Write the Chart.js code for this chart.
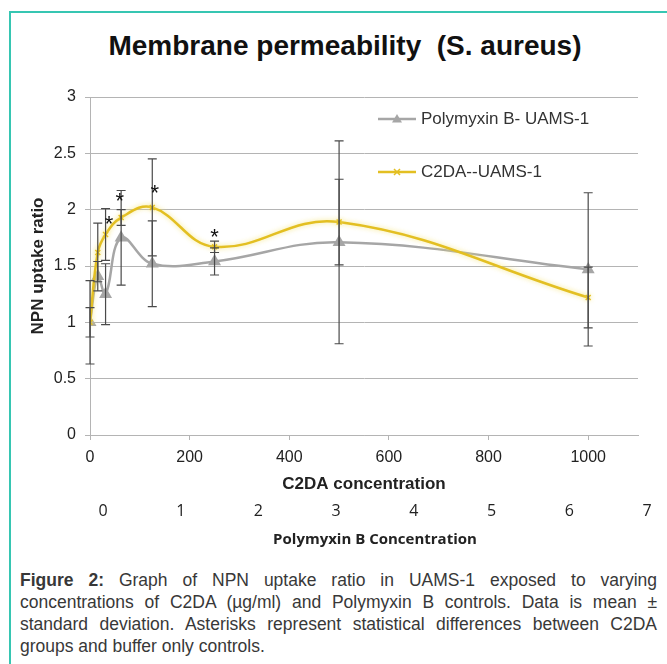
<!DOCTYPE html>
<html>
<head>
<meta charset="utf-8">
<script src="https://cdn.jsdelivr.net/npm/chart.js@4.4.1/dist/chart.umd.min.js"></script>
<style>
    html, body { margin: 0; padding: 0; background: #fff; }
    body { width: 667px; height: 664px; position: relative; overflow: hidden; font-family: "Liberation Sans", Arial, sans-serif; }
    #frame { position: absolute; left: 9px; top: 11px; width: 700px; height: 700px; border-left: 2px solid #36c6b2; border-top: 2px solid #36c6b2; }
    #title { position: absolute; left: 0; top: 29px; width: 690px; text-align: center; font-size: 28px; line-height: 34px; font-weight: bold; color: #111; }
    #wrap { position: absolute; left: 0; top: 0; width: 667px; height: 560px; }
    #caption { position: absolute; left: 20px; top: 569px; width: 637px; font-size: 17.5px; line-height: 22px; color: #383838; }
    #caption div { text-align: justify; text-align-last: justify; white-space: nowrap; }
    #caption div:last-child { text-align-last: left; }
</style>
</head>
<body>
<div id="frame"></div>
<div id="title">Membrane permeability&nbsp; (S. aureus)</div>
<div id="wrap"><canvas id="npnChart" width="667" height="560"></canvas></div>
<div id="caption">
    <div><b>Figure 2:</b> Graph of NPN uptake ratio in UAMS-1 exposed to varying</div>
    <div>concentrations of C2DA (µg/ml) and Polymyxin B controls. Data is mean ±</div>
    <div>standard deviation. Asterisks represent statistical differences between C2DA</div>
    <div>groups and buffer only controls.</div>
</div>
<script>
    // values
    const concentrations = [0, 15.6, 31.25, 62.5, 125, 250, 500, 1000];
    const polymyxinRatio = [1.0, 1.41, 1.25, 1.75, 1.52, 1.54, 1.71, 1.47];
    const polymyxinSd = [0.37, 0.13, 0.27, 0.42, 0.38, 0.12, 0.9, 0.68];
    const c2daRatio = [1.0, 1.62, 1.78, 1.93, 2.02, 1.67, 1.89, 1.22];
    const c2daSd = [0.13, 0.26, 0.23, 0.07, 0.43, 0.05, 0.38, 0.27];

    // asterisks (significant vs buffer only)
    const asteriskX = [38, 60, 130, 250];
    const asteriskY = [1.93, 2.13, 2.2, 1.81];

    const c2daTicks = [0, 200, 400, 600, 800, 1000];
    const polymyxinTicks = [0, 1, 2, 3, 4, 5, 6, 7];
    const ratioTicks = [0, 0.5, 1, 1.5, 2, 2.5, 3];

    const FONT = '"Liberation Sans", Arial, sans-serif';
    const GRAY = "#a6a6a6";
    const YELLOW = "#e3bf22";
    const GRID = "#b4b4b4";

    const toPoints = (ys) => concentrations.map((x, i) => ({ x: x, y: ys[i] }));

    const errorBars = {
        id: "errorBars",
        afterDatasetsDraw(chart) {
            const { ctx, scales } = chart;
            ctx.save();
            ctx.strokeStyle = "#4a4a4a";
            ctx.lineWidth = 1.2;
            chart.data.datasets.forEach((ds) => {
                ds.data.forEach((p, i) => {
                    const err = ds.errors[i];
                    const px = scales.x.getPixelForValue(p.x);
                    const top = scales.y.getPixelForValue(p.y + err);
                    const bottom = scales.y.getPixelForValue(p.y - err);
                    ctx.beginPath();
                    ctx.moveTo(px, top);
                    ctx.lineTo(px, bottom);
                    ctx.moveTo(px - 4.5, top);
                    ctx.lineTo(px + 4.5, top);
                    ctx.moveTo(px - 4.5, bottom);
                    ctx.lineTo(px + 4.5, bottom);
                    ctx.stroke();
                });
            });
            ctx.restore();
        },
    };

    const asterisks = {
        id: "asterisks",
        afterDatasetsDraw(chart) {
            const { ctx, scales } = chart;
            ctx.save();
            ctx.fillStyle = "#111";
            ctx.font = "22px " + FONT;
            ctx.textAlign = "center";
            ctx.textBaseline = "alphabetic";
            asteriskX.forEach((x, i) => {
                const px = scales.x.getPixelForValue(x);
                const py = scales.y.getPixelForValue(asteriskY[i]);
                ctx.fillText("*", px, py + 13);
            });
            ctx.restore();
        },
    };

    // soft glow under the C2DA line, like the Excel original
    const glow = {
        id: "glow",
        beforeDatasetDraw(chart, args) {
            if (args.index !== 1) return;
            chart.ctx.save();
            chart.ctx.shadowColor = "rgba(245, 228, 120, 0.9)";
            chart.ctx.shadowBlur = 5;
        },
        afterDatasetDraw(chart, args) {
            if (args.index !== 1) return;
            chart.ctx.restore();
        },
    };

    const insideLegend = {
        id: "insideLegend",
        afterDraw(chart) {
            const ctx = chart.ctx;
            ctx.save();
            chart.data.datasets.forEach((ds, i) => {
                const y = 119 + i * 53;
                ctx.strokeStyle = ds.borderColor;
                ctx.lineWidth = 2.5;
                ctx.beginPath();
                ctx.moveTo(378, y);
                ctx.lineTo(416, y);
                ctx.stroke();
                if (ds.pointStyle === "triangle") {
                    ctx.fillStyle = ds.borderColor;
                    ctx.beginPath();
                    ctx.moveTo(397, y - 5);
                    ctx.lineTo(402, y + 3.5);
                    ctx.lineTo(392, y + 3.5);
                    ctx.closePath();
                    ctx.fill();
                } else {
                    ctx.lineWidth = 1.5;
                    ctx.beginPath();
                    ctx.moveTo(394, y - 3);
                    ctx.lineTo(400, y + 3);
                    ctx.moveTo(400, y - 3);
                    ctx.lineTo(394, y + 3);
                    ctx.stroke();
                }
                ctx.fillStyle = "#333";
                ctx.font = "17px " + FONT;
                ctx.textBaseline = "middle";
                ctx.fillText(ds.label, 421, y);
            });
            ctx.restore();
        },
    };

    // the Polymyxin B axis in the original is offset from the plot area
    const shiftPolymyxinAxis = {
        id: "shiftPolymyxinAxis",
        afterLayout(chart) {
            const s = chart.scales.x2;
            s.left = chart.chartArea.left + 13;
            s.right = chart.chartArea.right + 9;
            s.width = s.right - s.left;
            s.configure();
        },
    };

    new Chart(document.getElementById("npnChart"), {
        type: "line",
        data: {
            datasets: [
                {
                    label: "Polymyxin B- UAMS-1",
                    data: toPoints(polymyxinRatio),
                    errors: polymyxinSd,
                    borderColor: GRAY,
                    backgroundColor: GRAY,
                    borderWidth: 2.5,
                    pointStyle: "triangle",
                    pointRadius: 5,
                    tension: 0.4,
                    order: 1,
                },
                {
                    label: "C2DA--UAMS-1",
                    data: toPoints(c2daRatio),
                    errors: c2daSd,
                    borderColor: YELLOW,
                    backgroundColor: YELLOW,
                    borderWidth: 2.5,
                    pointStyle: "crossRot",
                    pointRadius: 3.5,
                    pointBorderWidth: 1.5,
                    tension: 0.4,
                    order: 0,
                },
            ],
        },
        options: {
            responsive: false,
            animation: false,
            layout: { padding: { top: 97, left: 0, right: 29, bottom: 2 } },
            plugins: {
                legend: { display: false },
                tooltip: { enabled: false },
            },
            scales: {
                x: {
                    type: "linear",
                    position: "bottom",
                    min: 0,
                    max: 1100,
                    weight: 1,
                    afterBuildTicks: (s) => { s.ticks = c2daTicks.map((v) => ({ value: v })); },
                    afterFit: (s) => { s.height = 63; },
                    grid: { drawOnChartArea: false, tickLength: 5, color: GRID },
                    border: { color: GRID },
                    ticks: { padding: 8, color: "#222", maxRotation: 0, autoSkip: false, font: { size: 16, family: FONT }, callback: (v) => String(v) },
                    title: {
                        display: true,
                        text: "C2DA concentration",
                        color: "#222",
                        font: { size: 17, weight: "bold", family: FONT },
                        padding: { top: 0, bottom: 3 },
                    },
                },
                x2: {
                    type: "linear",
                    position: "bottom",
                    min: 0,
                    max: 7,
                    weight: 2,
                    afterBuildTicks: (s) => { s.ticks = polymyxinTicks.map((v) => ({ value: v })); },
                    afterFit: (s) => { s.height = 60; },
                    grid: { display: false, drawTicks: false },
                    border: { display: false },
                    ticks: { padding: 4, color: "#222", maxRotation: 0, autoSkip: false, font: { size: 16, family: "Open Sans" } },
                    title: {
                        display: true,
                        text: "Polymyxin B Concentration",
                        color: "#222",
                        font: { size: 15, weight: "bold", family: "Open Sans" },
                        padding: { top: 0, bottom: 9 },
                    },
                },
                y: {
                    min: 0,
                    max: 3,
                    afterBuildTicks: (s) => { s.ticks = ratioTicks.map((v) => ({ value: v })); },
                    afterFit: (s) => { s.width = 90; },
                    grid: { color: GRID, tickLength: 5 },
                    border: { color: GRID },
                    ticks: { padding: 9, color: "#222", font: { size: 16, family: FONT }, callback: (v) => String(v) },
                    title: {
                        display: true,
                        text: "NPN uptake ratio",
                        color: "#222",
                        font: { size: 17, weight: "bold", family: FONT },
                        padding: { top: 28, bottom: 0 },
                    },
                },
            },
        },
        plugins: [glow, errorBars, asterisks, insideLegend, shiftPolymyxinAxis],
    });
</script>
</body>
</html>
